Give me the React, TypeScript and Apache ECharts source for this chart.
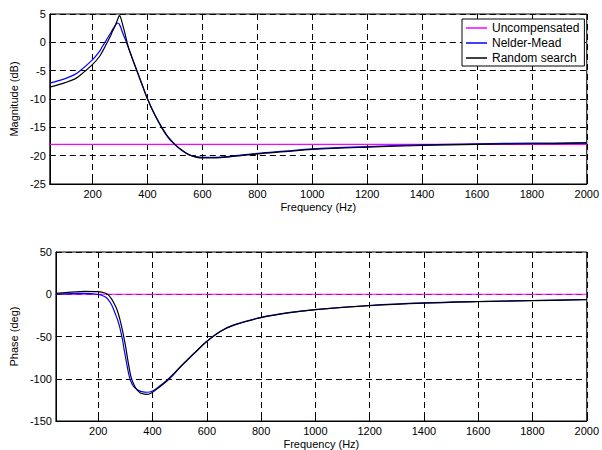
import React, { useEffect, useRef } from "react";
import * as echarts from "echarts";

const freq = [44, 100, 134, 150, 200, 225, 236, 250, 265, 272, 280, 290, 295, 298, 302, 310, 315, 320, 326, 330, 340, 350, 360, 380, 400, 425, 452, 475, 500, 525, 554, 600, 650, 700, 800, 900, 1000, 1200, 1400, 1600, 1800, 2000];

const magUncomp = freq.map(() => -18);
const magNelder = [-7.2, -6.4, -5.7, -5.2, -3.05, -1.6, -0.7, 0.4, 1.6, 2.2, 2.8, 3.4, 3.35, 3.1, 2.7, 1.6, 1.0, 0.4, -0.4, -0.9, -2.3, -3.6, -4.9, -7.5, -10, -12.7, -15.1, -16.8, -18.1, -19.1, -19.9, -20.3, -20.3, -20.1, -19.6, -19.2, -18.8, -18.4, -18.1, -17.9, -17.8, -17.7];
const magRandom = [-7.9, -7.1, -6.5, -6.0, -3.9, -2.5, -1.6, -0.3, 1.1, 1.9, 2.7, 3.9, 4.5, 4.7, 4.4, 3.0, 2.1, 1.1, -0.1, -0.8, -2.2, -3.5, -4.8, -7.4, -10, -12.6, -15, -16.7, -18, -19, -19.9, -20.4, -20.4, -20.2, -19.7, -19.3, -18.9, -18.5, -18.2, -18.0, -17.9, -17.8];

const phUncomp = freq.map(() => 0);
const phNelder = [0, 0.8, 1, 1, -0.3, -3, -6, -13, -25, -31, -40, -55, -65, -70, -77, -91, -98, -103, -107, -109, -112, -114, -115.3, -116, -114.5, -109, -102, -95, -86.5, -78.5, -69.5, -55.5, -43.7, -36.2, -27.4, -21.8, -18.1, -13.3, -10.3, -8.6, -7.4, -6.2];
const phRandom = [1, 2.5, 3.2, 3.3, 3, 1.5, -0.5, -6, -15, -21, -30, -44, -52, -57, -64, -80, -89, -97, -103, -106, -112, -115.5, -117.5, -118.5, -116, -110, -103, -96, -87, -79, -70, -56, -44, -36.5, -27.6, -22, -18.3, -13.5, -10.5, -8.8, -7.6, -6.4];

const xTicks = [200, 400, 600, 800, 1000, 1200, 1400, 1600, 1800, 2000];
const seriesNames = ["Uncompensated", "Nelder-Mead", "Random search"];
const colors = ["#ff00ff", "#0000ff", "#000000"];

const FONT = "Liberation Sans, Arial, sans-serif";

export default function App() {
  const ref = useRef<HTMLDivElement>(null);
  useEffect(() => {
    if (!ref.current) return;
    const chart = echarts.init(ref.current, undefined, { renderer: "svg" });
    const pair = (ys: number[]) => freq.map((f, i) => [f, ys[i]]);
    const mkX = (idx: number) => ({
      type: "value",
      gridIndex: idx,
      min: 44,
      max: 2000,
      splitNumber: 10,
      name: "Frequency (Hz)",
      nameLocation: "middle",
      nameGap: 17,
      nameTextStyle: { color: "#000", fontFamily: FONT, fontSize: 11 },
      axisLine: { show: true, onZero: false, lineStyle: { color: "#000", width: 1 } },
      axisTick: { show: true, inside: true, length: 4, customValues: xTicks, lineStyle: { color: "#000" } },
      axisLabel: { customValues: xTicks, color: "#000", fontFamily: FONT, fontSize: 11, margin: 4, formatter: (v: number) => String(v) },
      splitLine: { show: true, lineStyle: { color: "#000", type: [6, 4], width: 1 } },
    });
    const mkY = (idx: number, min: number, max: number, interval: number, name: string) => ({
      type: "value",
      gridIndex: idx,
      min,
      max,
      interval,
      name,
      nameLocation: "middle",
      nameGap: 25,
      nameTextStyle: { color: "#000", fontFamily: FONT, fontSize: 11 },
      axisLine: { show: true, onZero: false, lineStyle: { color: "#000", width: 1 } },
      axisTick: { show: true, inside: true, length: 4, lineStyle: { color: "#000" } },
      axisLabel: { color: "#000", fontFamily: FONT, fontSize: 11, margin: 4, formatter: (v: number) => String(v) },
      splitLine: { show: true, lineStyle: { color: "#000", type: [6, 4], width: 1 } },
    });
    const mkS = (name: string, color: string, data: number[], idx: number, z: number) => ({
      type: "line",
      name,
      xAxisIndex: idx,
      yAxisIndex: idx,
      data: pair(data),
      showSymbol: false,
      symbol: "none",
      smooth: 0.35,
      z,
      lineStyle: { color, width: 1.2 },
      itemStyle: { color },
    });
    chart.setOption({
      animation: false,
      backgroundColor: "#fff",
      textStyle: { fontFamily: FONT },
      grid: [
        { left: 48, right: 11, top: 14, height: 170, show: true, borderColor: "#000", borderWidth: 1, backgroundColor: "transparent" },
        { left: 48, right: 11, top: 252, height: 170, show: true, borderColor: "#000", borderWidth: 1, backgroundColor: "transparent" },
      ],
      xAxis: [mkX(0), mkX(1)],
      yAxis: [mkY(0, -25, 5, 5, "Magnitude (dB)"), mkY(1, -150, 50, 50, "Phase (deg)")],
      legend: {
        orient: "vertical",
        left: 462,
        top: 19,
        data: seriesNames,
        icon: "rect",
        itemWidth: 21,
        itemHeight: 1.5,
        itemGap: 1,
        padding: [2, 5, 1, 4],
        borderColor: "#000",
        borderWidth: 1,
        backgroundColor: "#fff",
        textStyle: { color: "#000", fontFamily: FONT, fontSize: 12, lineHeight: 14 },
      },
      series: [
        mkS(seriesNames[0], colors[0], magUncomp, 0, 2),
        mkS(seriesNames[1], colors[1], magNelder, 0, 3),
        mkS(seriesNames[2], colors[2], magRandom, 0, 4),
        mkS(seriesNames[0], colors[0], phUncomp, 1, 2),
        mkS(seriesNames[1], colors[1], phNelder, 1, 3),
        mkS(seriesNames[2], colors[2], phRandom, 1, 4),
      ],
    });
    return () => chart.dispose();
  }, []);
  return <div ref={ref} style={{ position: "fixed", left: 0, top: 0, width: 602, height: 450, background: "#fff" }} />;
}
